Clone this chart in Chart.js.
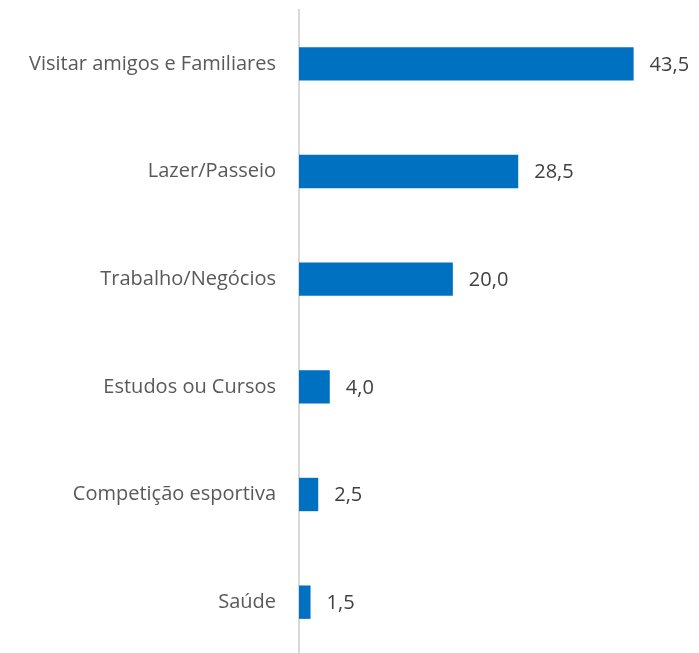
<!DOCTYPE html>
<html>
<head>
<meta charset="utf-8">
<script src="https://cdn.jsdelivr.net/npm/chart.js@4/dist/chart.umd.min.js"></script>
<style>
  html, body { margin: 0; padding: 0; background: #fff; overflow: hidden; }
  #wrap { width: 699px; height: 656px; position: relative; }
</style>
</head>
<body>
<div id="wrap"><canvas id="chart"></canvas></div>
<script>
// categories and values
const categories = ['Visitar amigos e Familiares', 'Lazer/Passeio', 'Trabalho/Negócios', 'Estudos ou Cursos', 'Competição esportiva', 'Saúde'];
const values = [43.5, 28.5, 20.0, 4.0, 2.5, 1.5];

const fontFamily = "'Open Sans', 'Liberation Sans', sans-serif";

// draws "43,5" style labels just past each bar end
const valueLabels = {
    id: 'valueLabels',
    afterDatasetsDraw(chart) {
        const ctx = chart.ctx;
        const meta = chart.getDatasetMeta(0);
        ctx.save();
        ctx.font = '20px ' + fontFamily;
        ctx.fillStyle = '#404040';
        ctx.textAlign = 'left';
        ctx.textBaseline = 'middle';
        meta.data.forEach((bar, i) => {
            const txt = values[i].toFixed(1).replace('.', ',');
            ctx.fillText(txt, bar.x + 16, bar.y + 1);
        });
        ctx.restore();
    }
};

new Chart(document.getElementById('chart'), {
    type: 'bar',
    data: {
        labels: categories,
        datasets: [{
            data: values,
            backgroundColor: '#0070C0',
            borderWidth: 0,
            categoryPercentage: 1,
            barPercentage: 0.31
        }]
    },
    options: {
        indexAxis: 'y',
        responsive: true,
        maintainAspectRatio: false,
        animation: false,
        layout: { padding: { top: 10, right: 0, bottom: 0, left: 0 } },
        plugins: { legend: { display: false }, tooltip: { enabled: false } },
        scales: {
            x: {
                display: false,
                min: 0,
                max: 52
            },
            y: {
                afterFit: (scale) => {
                    scale.width = 299;
                    scale.paddingTop = 0;
                    scale.paddingBottom = 0;
                },
                grid: { display: false, drawTicks: false },
                border: { display: true, color: '#d9d9d9', width: 2 },
                ticks: {
                    color: '#595959',
                    padding: 23,
                    font: { family: fontFamily, size: 20 }
                }
            }
        }
    },
    plugins: [valueLabels]
});
</script>
</body>
</html>
